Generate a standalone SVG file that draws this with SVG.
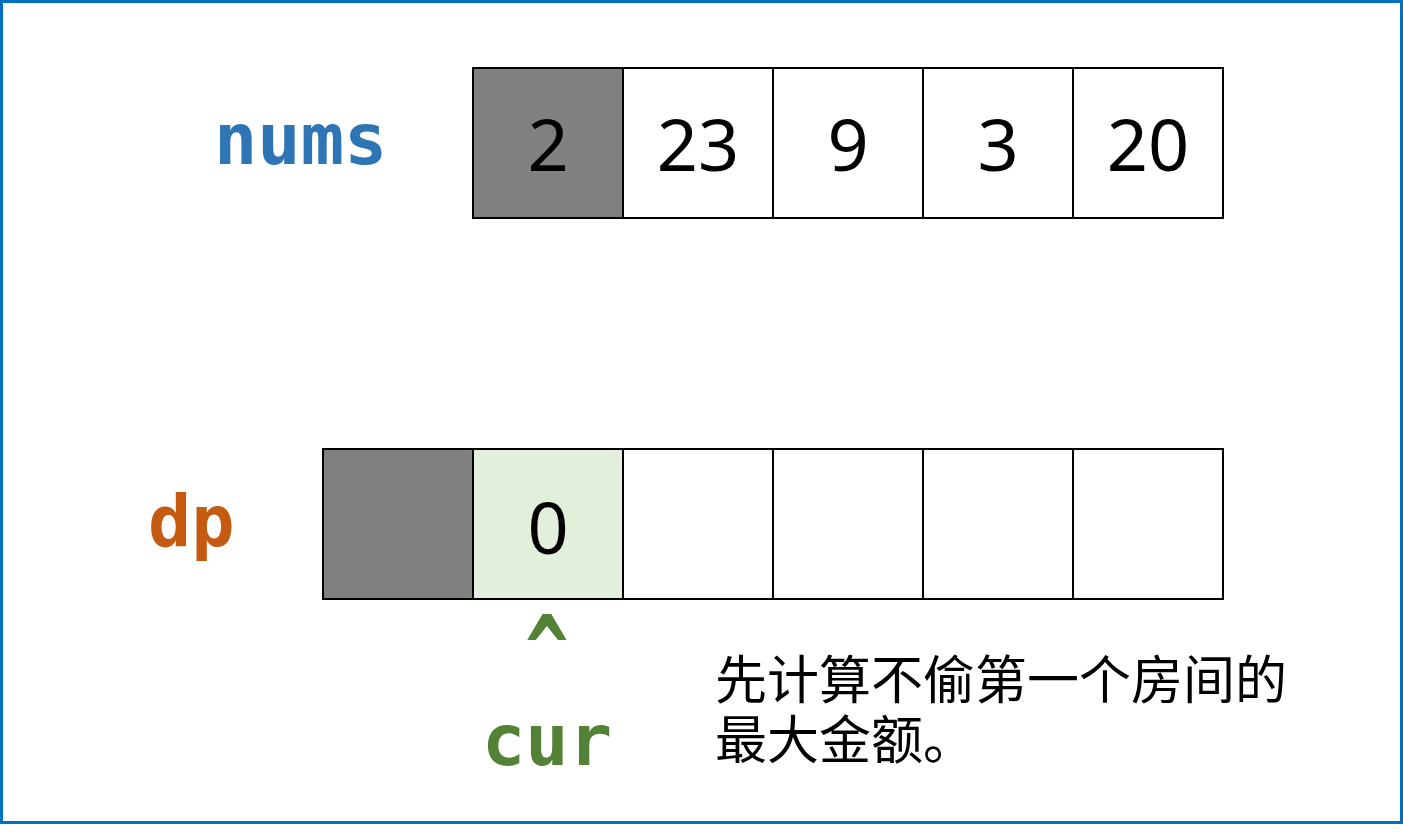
<svg xmlns="http://www.w3.org/2000/svg" width="1403" height="832" viewBox="0 0 1403 832">
<style>
.cell{stroke:#000;stroke-width:2;fill:#fff}
.gray{fill:#808080}
.green{fill:#E2EFDA}
.num{font-family:"Noto Sans","Open Sans",sans-serif;font-size:72px;fill:#000;text-anchor:middle}
.lbl{font-family:"DejaVu Sans Mono",monospace;font-weight:bold;font-size:72px}
.cjk{font-family:"Noto Sans CJK SC","Noto Sans",sans-serif;font-size:52px;fill:#000}
</style>
<rect x="0" y="0" width="1403" height="832" fill="#fff"/>
<rect x="1.5" y="1.5" width="1400" height="821" fill="none" stroke="#0070C0" stroke-width="3"/>
<g id="nums-label"><text class="lbl" x="214" y="164" fill="#2E75B6">nums</text></g>
<g id="nums-array">
<rect class="cell gray" x="473" y="68" width="150" height="150"/>
<rect class="cell" x="623" y="68" width="150" height="150"/>
<rect class="cell" x="773" y="68" width="150" height="150"/>
<rect class="cell" x="923" y="68" width="150" height="150"/>
<rect class="cell" x="1073" y="68" width="150" height="150"/>
<text class="num" x="548" y="171">2</text>
<text class="num" x="698" y="171">23</text>
<text class="num" x="848" y="171">9</text>
<text class="num" x="998" y="171">3</text>
<text class="num" x="1148" y="171">20</text>
</g>
<g id="dp-label"><text class="lbl" x="148" y="546" fill="#C55A11">dp</text></g>
<g id="dp-array">
<rect class="cell gray" x="323" y="449" width="150" height="150"/>
<rect class="cell green" x="473" y="449" width="150" height="150"/>
<rect class="cell" x="623" y="449" width="150" height="150"/>
<rect class="cell" x="773" y="449" width="150" height="150"/>
<rect class="cell" x="923" y="449" width="150" height="150"/>
<rect class="cell" x="1073" y="449" width="150" height="150"/>
<text class="num" x="548" y="554">0</text>
</g>
<g id="cur-pointer">
<text class="lbl" x="547" y="0" fill="#538135" text-anchor="middle" transform="translate(0,683) scale(1,1.3)">^</text>
<text class="lbl" x="547" y="765" fill="#538135" text-anchor="middle">cur</text>
</g>
<g id="note">
<text class="cjk" x="715" y="699">先计算不偷第一个房间的</text>
<text class="cjk" x="715" y="759">最大金额。</text>
</g>
<g id="connectors"></g>
</svg>
